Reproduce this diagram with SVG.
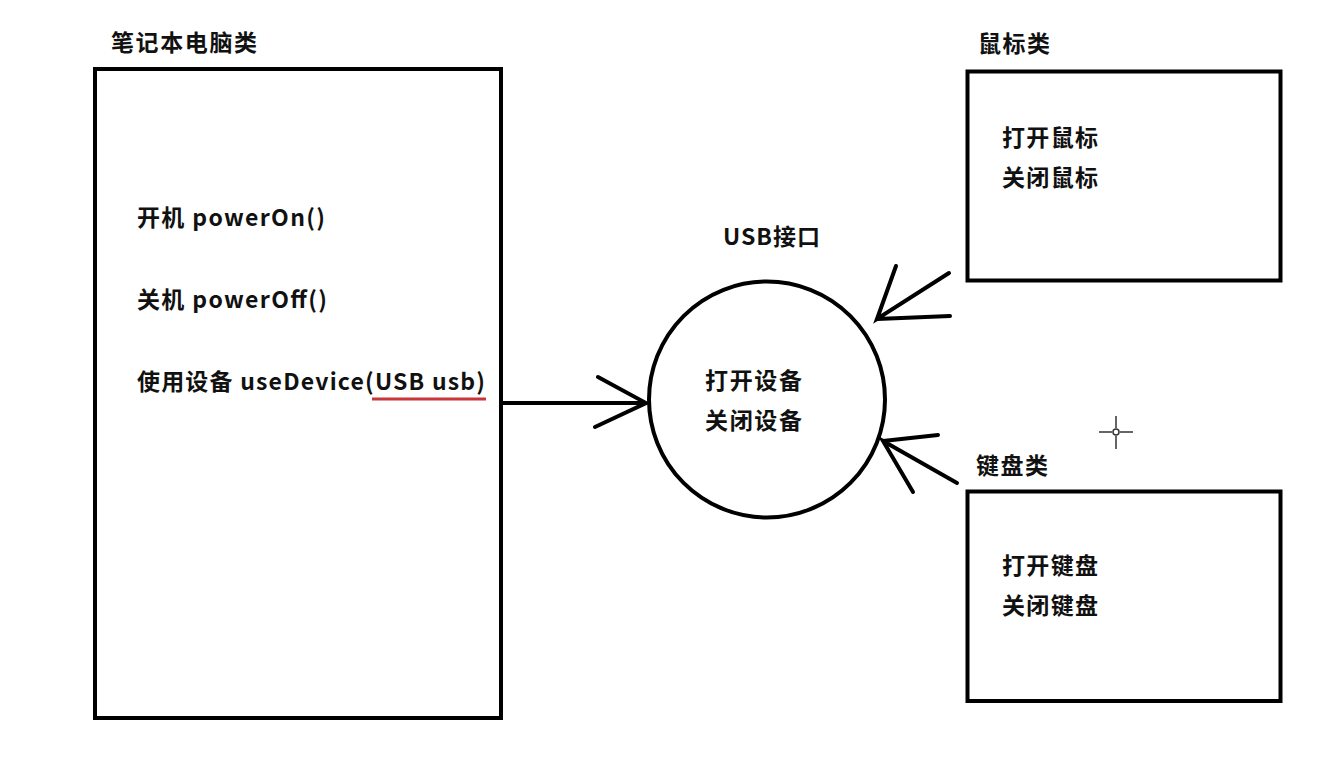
<svg xmlns="http://www.w3.org/2000/svg" width="1318" height="773" viewBox="0 0 1318 773">
<style>
.box{fill:none;stroke:#000;stroke-width:4}
.t{font-family:"Noto Sans CJK SC","Microsoft YaHei","Noto Sans",sans-serif;font-weight:700;font-size:23px;fill:#111}
.c{stroke:#000;stroke-width:4;stroke-linecap:round;fill:none}
</style>
<rect width="1318" height="773" fill="#fff"/>
<g id="laptop">
<text class="t" x="111" y="51" textLength="146" lengthAdjust="spacing">笔记本电脑类</text>
<rect class="box" x="95" y="69" width="406" height="649"/>
<text class="t" x="137" y="226" textLength="188" lengthAdjust="spacing">开机 powerOn()</text>
<text class="t" x="137" y="308" textLength="190" lengthAdjust="spacing">关机 powerOff()</text>
<text class="t" x="137" y="390" textLength="348" lengthAdjust="spacing">使用设备 useDevice(USB usb)</text>
<line x1="372" y1="399" x2="486" y2="399" stroke="#c9363a" stroke-width="3"/>
</g>
<g id="usb">
<text class="t" x="723" y="245" textLength="97" lengthAdjust="spacing">USB接口</text>
<circle class="box" cx="767" cy="399.5" r="118"/>
<text class="t" x="705" y="389" textLength="97" lengthAdjust="spacing">打开设备</text>
<text class="t" x="705" y="429" textLength="97" lengthAdjust="spacing">关闭设备</text>
</g>
<g id="mouse">
<text class="t" x="978" y="52" textLength="72" lengthAdjust="spacing">鼠标类</text>
<rect class="box" x="967.5" y="71.5" width="313" height="209"/>
<text class="t" x="1002" y="146" textLength="96" lengthAdjust="spacing">打开鼠标</text>
<text class="t" x="1002" y="186" textLength="96" lengthAdjust="spacing">关闭鼠标</text>
</g>
<g id="keyboard">
<text class="t" x="976" y="474" textLength="72" lengthAdjust="spacing">键盘类</text>
<rect class="box" x="967.5" y="491.5" width="313" height="209.5"/>
<text class="t" x="1002" y="574" textLength="96" lengthAdjust="spacing">打开键盘</text>
<text class="t" x="1002" y="614" textLength="96" lengthAdjust="spacing">关闭键盘</text>
</g>
<g id="connectors">
<path class="c" d="M503 403 H646 M598 377 L646 403 L595 427"/>
<path class="c" d="M950 316 L877 319 M896 266 L877 319 L949 273"/>
<path class="c" d="M938 435 L883 441 M913 492 L883 441 L957 483"/>
</g>
<g id="cursor" stroke="#333" stroke-width="1.5" fill="none">
<path d="M1116 416 V428 M1116 436 V449 M1099 432 H1112 M1120 432 H1133"/>
<circle cx="1116" cy="432" r="3"/>
</g>
</svg>
